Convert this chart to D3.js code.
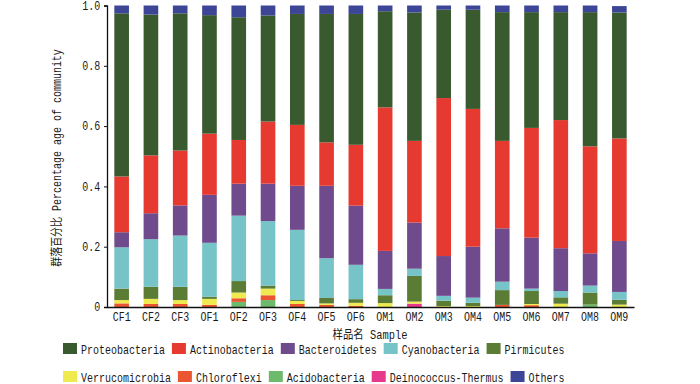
<!DOCTYPE html>
<html lang="zh">
<head>
  <meta charset="UTF-8">
  <title>群落组成 - 门水平</title>
  <style>
    body { margin: 0; background: #fff; }
    svg text { font-family: "Liberation Mono", "Noto Sans CJK SC", monospace; fill: #1a1a1a; }
  </style>
  <script src="https://d3js.org/d3.v7.min.js"></script>
</head>
<body>
  <div id="chart"></div>

  <script>
    const samples = ["CF1", "CF2", "CF3", "OF1", "OF2", "OF3", "OF4", "OF5", "OF6",
                     "OM1", "OM2", "OM3", "OM4", "OM5", "OM6", "OM7", "OM8", "OM9"];

    // 图例顺序
    const phyla = ["Proteobacteria", "Actinobacteria", "Bacteroidetes", "Cyanobacteria", "Pirmicutes",
                   "Verrucomicrobia", "Chloroflexi", "Acidobacteria", "Deinococcus-Thermus", "Others"];
    const colors = ["#395a2f", "#e63a30", "#6f4a8c", "#76c3c8", "#5b7c34",
                    "#eeea50", "#eb5632", "#6dba6d", "#e8388c", "#3d4597"];

    // 各样品相对丰度
    const proteobacteria = [0.541, 0.467, 0.455, 0.393, 0.407, 0.352, 0.368, 0.426, 0.434,
                            0.319, 0.426, 0.293, 0.329, 0.427, 0.384, 0.358, 0.445, 0.418];
    const actinobacteria = [0.185, 0.192, 0.182, 0.203, 0.145, 0.206, 0.202, 0.144, 0.202,
                            0.476, 0.271, 0.524, 0.457, 0.290, 0.364, 0.425, 0.355, 0.340];
    const bacteroidetes  = [0.050, 0.086, 0.100, 0.159, 0.106, 0.124, 0.146, 0.240, 0.196,
                            0.126, 0.153, 0.132, 0.169, 0.177, 0.169, 0.142, 0.107, 0.169];
    const cyanobacteria  = [0.137, 0.158, 0.170, 0.179, 0.217, 0.214, 0.233, 0.132, 0.114,
                            0.021, 0.024, 0.016, 0.017, 0.028, 0.008, 0.021, 0.023, 0.026];
    const pirmicutes     = [0.038, 0.040, 0.044, 0.007, 0.038, 0.010, 0.003, 0.018, 0.012,
                            0.026, 0.085, 0.018, 0.011, 0.049, 0.043, 0.021, 0.040, 0.016];
    const verrucomicrobia = [0.011, 0.017, 0.013, 0.020, 0.019, 0.022, 0.010, 0.005, 0.010,
                             0.013, 0.007, 0.003, 0.003, 0.000, 0.004, 0.011, 0.000, 0.008];
    const chloroflexi    = [0.012, 0.010, 0.010, 0.007, 0.012, 0.016, 0.010, 0.007, 0.004,
                            0.000, 0.000, 0.000, 0.000, 0.007, 0.006, 0.000, 0.000, 0.000];
    const acidobacteria  = [0.000, 0.000, 0.000, 0.000, 0.017, 0.023, 0.000, 0.000, 0.000,
                            0.000, 0.000, 0.000, 0.000, 0.000, 0.000, 0.000, 0.008, 0.000];
    const deinococcus    = [0.000, 0.000, 0.000, 0.000, 0.000, 0.000, 0.000, 0.000, 0.000,
                            0.000, 0.011, 0.000, 0.000, 0.000, 0.000, 0.000, 0.000, 0.000];
    const others         = [0.026, 0.030, 0.026, 0.032, 0.039, 0.033, 0.028, 0.028, 0.028,
                            0.019, 0.023, 0.014, 0.014, 0.022, 0.022, 0.022, 0.022, 0.021];

    const yTicks = [0, 0.2, 0.4, 0.6, 0.8, 1.0];

    const series = [proteobacteria, actinobacteria, bacteroidetes, cyanobacteria, pirmicutes,
                    verrucomicrobia, chloroflexi, acidobacteria, deinococcus, others];

    // 堆叠顺序 (下 -> 上)
    const stackOrder = ["Deinococcus-Thermus", "Acidobacteria", "Chloroflexi", "Verrucomicrobia",
                        "Pirmicutes", "Cyanobacteria", "Bacteroidetes", "Actinobacteria",
                        "Proteobacteria", "Others"];

    const rows = samples.map((s, i) => {
      const r = { sample: s };
      phyla.forEach((p, j) => { r[p] = series[j][i]; });
      return r;
    });

    const width = 700, height = 384;
    const sx = 0.833; // 窄字形
    const svg = d3.select("#chart").append("svg")
      .attr("width", width)
      .attr("height", height);

    const x = d3.scaleBand()
      .domain(samples)
      .range([107, 634])
      .paddingInner(0.5)
      .paddingOuter(0.25);

    const y = d3.scaleLinear()
      .domain([0, 1])
      .range([307, 5.5]);

    const color = d3.scaleOrdinal().domain(phyla).range(colors);

    const stacked = d3.stack().keys(stackOrder)(rows);

    svg.append("g")
      .selectAll("g")
      .data(stacked)
      .join("g")
      .attr("fill", d => color(d.key))
      .selectAll("rect")
      .data(d => d)
      .join("rect")
      .attr("x", d => x(d.data.sample))
      .attr("width", x.bandwidth())
      .attr("y", d => y(d[1]))
      .attr("height", d => Math.max(0, y(d[0]) - y(d[1])));

    // 坐标轴
    const yAxis = svg.append("g")
      .attr("transform", "translate(107,0)")
      .call(d3.axisLeft(y).tickValues(yTicks).tickSize(3).tickPadding(5)
        .tickFormat(d => d === 0 ? "0" : d3.format(".1f")(d)));
    yAxis.select(".domain").attr("stroke", "#111").attr("stroke-width", 1.3);
    yAxis.selectAll(".tick line").attr("stroke", "#111");
    yAxis.selectAll("text").style("font-size", "12px").attr("transform", `scale(${sx},1)`);

    const xAxis = svg.append("g")
      .attr("transform", "translate(0,307)")
      .call(d3.axisBottom(x).tickSize(0).tickPadding(5));
    xAxis.select(".domain").attr("stroke", "#111").attr("stroke-width", 1.3);
    xAxis.selectAll("text").style("font-size", "12px").attr("transform", `scale(${sx},1)`);

    svg.append("text")
      .attr("transform", `translate(61,158) rotate(-90) scale(${sx},1)`)
      .attr("text-anchor", "middle")
      .style("font-size", "12px")
      .text("群落百分比 Percentage age of community");

    svg.append("text")
      .attr("transform", `translate(370,339) scale(${sx},1)`)
      .attr("text-anchor", "middle")
      .style("font-size", "12.5px")
      .text("样品名 Sample");

    // 图例
    const legendRows = [phyla.slice(0, 5), phyla.slice(5)];
    legendRows.forEach((items, ri) => {
      let cx = 63;
      const cy = 349 + ri * 28;
      items.forEach(name => {
        const g = svg.append("g").attr("transform", `translate(${cx},${cy})`);
        g.append("rect")
          .attr("x", 0).attr("y", -6)
          .attr("width", 14).attr("height", 11)
          .attr("fill", color(name));
        const t = g.append("text")
          .attr("transform", `translate(18,4.5) scale(${sx},1)`)
          .style("font-size", "12px")
          .text(name);
        cx += 18 + t.node().getComputedTextLength() * sx + 7;
      });
    });
  </script>
</body>
</html>
